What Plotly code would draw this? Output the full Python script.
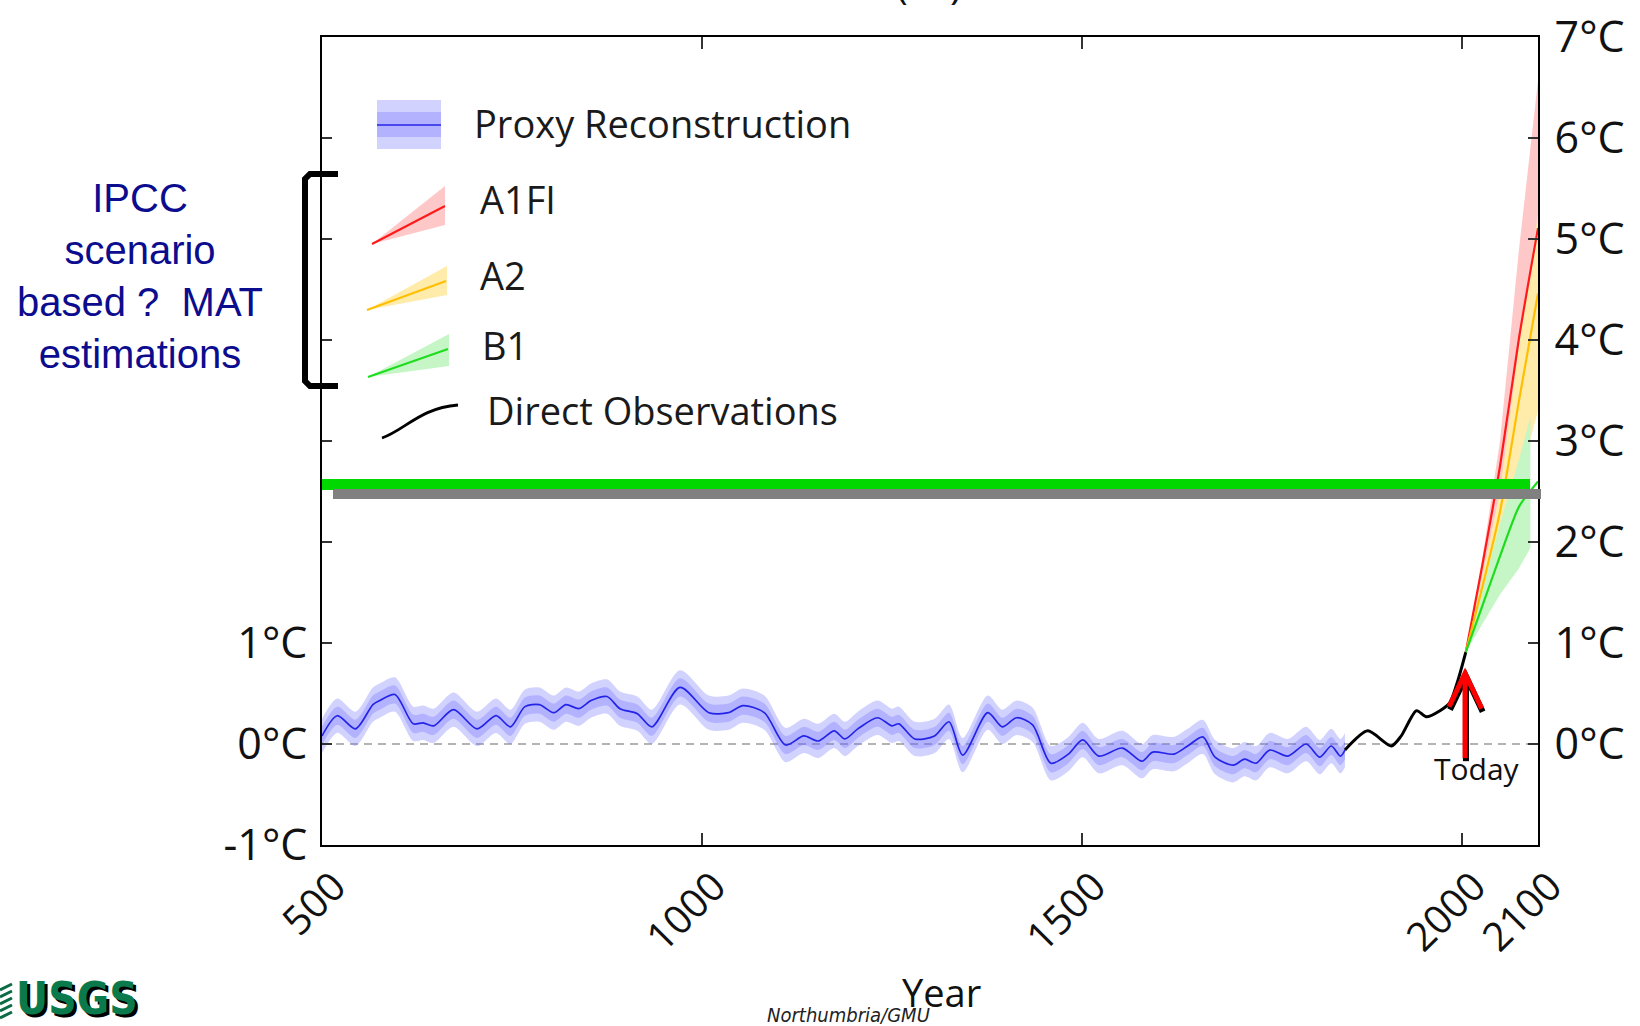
import plotly.graph_objects as go
import numpy as np

# ---------------- data ----------------
proxy_years = [500, 520, 544, 567, 576, 596, 620, 633, 647, 673, 704, 729, 748, 767, 786,
               805, 821, 838, 854, 875, 892, 915, 934, 971, 1009, 1035, 1054, 1082, 1110,
               1134, 1153, 1174, 1188, 1205, 1231, 1250, 1259, 1280, 1306, 1325, 1343, 1376,
               1395, 1414, 1435, 1459, 1482, 1501, 1522, 1553, 1579, 1593, 1621, 1639, 1659,
               1675, 1699, 1714, 1729, 1747, 1771, 1795, 1813, 1828, 1840, 1846]
proxy_temp = [0.08, 0.28, 0.15, 0.39, 0.43, 0.49, 0.20, 0.21, 0.18, 0.34, 0.15, 0.28, 0.17,
              0.37, 0.39, 0.31, 0.39, 0.35, 0.43, 0.47, 0.35, 0.30, 0.17, 0.56, 0.31, 0.31,
              0.38, 0.31, -0.01, 0.08, 0.03, 0.13, 0.05, 0.15, 0.26, 0.18, 0.20, 0.05, 0.08,
              0.22, -0.11, 0.31, 0.17, 0.26, 0.19, -0.19, -0.10, 0.04, -0.12, -0.04, -0.17,
              -0.08, -0.10, -0.02, 0.07, -0.13, -0.21, -0.15, -0.19, -0.06, -0.12, 0.00,
              -0.13, -0.02, -0.12, -0.06]
proxy_err_outer = 0.17
proxy_err_inner = 0.09

obs_years = [1846, 1876, 1907, 1920, 1940, 1953, 1971, 1984, 1995, 2005]
obs_temp = [-0.06, 0.13, -0.02, 0.08, 0.33, 0.27, 0.33, 0.41, 0.64, 0.91]

scen_years = [2005, 2025, 2050, 2075, 2100]
a1fi_mid = [0.91, 1.70, 2.75, 4.02, 5.11]
a1fi_hi = [0.91, 1.75, 3.00, 4.90, 6.57]
a1fi_lo = [0.91, 1.30, 2.10, 3.00, 3.90]
a2_mid = [0.91, 1.50, 2.30, 3.40, 4.46]
a2_hi = [0.91, 1.60, 2.50, 3.95, 5.25]
a2_lo = [0.91, 1.25, 1.85, 2.60, 3.30]
b1_mid = [0.91, 1.33, 1.86, 2.35, 2.60]
b1_band_years = [2005, 2025, 2050, 2075, 2090]
b1_hi = [0.91, 1.47, 2.18, 2.82, 3.24]
b1_lo = [0.91, 1.16, 1.48, 1.74, 1.94]

x_ticks = [500, 1000, 1500, 2000, 2100]
y_left_ticks = [-1, 0, 1, 2, 3, 4, 5, 6, 7]
y_left_labels = ["-1°C", "0°C", "1°C", "", "", "", "", "", ""]
y_right_ticks = [0, 1, 2, 3, 4, 5, 6, 7]
y_right_labels = ["0°C", "1°C", "2°C", "3°C", "4°C", "5°C", "6°C", "7°C"]

legend_labels = ["Proxy Reconstruction", "A1FI", "A2", "B1", "Direct Observations"]
side_note = "IPCC<br>scenario<br>based ?\u00a0 MAT<br>estimations"

today_year = 2004
today_top = 0.70
today_bottom = -0.14

# ---------------- geometry helpers ----------------
W, H = 1640, 1026
L, R, T, B = 322, 102, 37, 181
PW, PH = W - L - R, H - T - B


def fx(px):
    return (px - L) / PW


def fy(py):
    return (H - B - py) / PH


def ppath(cmds):
    out = []
    for c in cmds:
        if isinstance(c, str):
            out.append(c)
        else:
            out.append(f"{fx(c[0]):.5f},{fy(c[1]):.5f}")
    return " ".join(out)


BLUE_FILL = "rgba(105,105,255,0.30)"
PINK = "#FFC8C8"
YELLOW = "#FFEBAA"
LGREEN = "#C6F6C6"
RED = "#FF1A1A"
ORANGE = "#FFBF00"
GREEN = "#1EDC1E"

fig = go.Figure()

py_arr = np.array(proxy_temp)
for err in (proxy_err_outer, proxy_err_inner):
    fig.add_trace(go.Scatter(x=proxy_years, y=py_arr + err, mode="lines",
                             line=dict(width=0, shape="spline", smoothing=0.8),
                             hoverinfo="skip"))
    fig.add_trace(go.Scatter(x=proxy_years, y=py_arr - err, mode="lines",
                             line=dict(width=0, shape="spline", smoothing=0.8),
                             fill="tonexty", fillcolor=BLUE_FILL, hoverinfo="skip"))
fig.add_trace(go.Scatter(x=proxy_years, y=proxy_temp, mode="lines",
                         line=dict(color="#2424E8", width=1.7, shape="spline", smoothing=0.8)))

fig.add_trace(go.Scatter(x=obs_years, y=obs_temp, mode="lines",
                         line=dict(color="black", width=3, shape="spline", smoothing=0.7)))


def band(xs, hi, lo, color):
    fig.add_trace(go.Scatter(x=list(xs) + list(xs)[::-1], y=list(hi) + list(lo)[::-1],
                             mode="lines", line=dict(width=0), fill="toself",
                             fillcolor=color, hoverinfo="skip"))


band(scen_years, a1fi_hi, a1fi_lo, PINK)
band(scen_years, a2_hi, a2_lo, YELLOW)
band(b1_band_years, b1_hi, b1_lo, LGREEN)
for ys, col in ((a1fi_mid, RED), (a2_mid, ORANGE), (b1_mid, GREEN)):
    fig.add_trace(go.Scatter(x=scen_years, y=ys, mode="lines",
                             line=dict(color=col, width=2.2, shape="spline", smoothing=0.6)))

# invisible trace to anchor right axis
fig.add_trace(go.Scatter(x=[500], y=[0], yaxis="y2", mode="markers",
                         marker=dict(opacity=0), hoverinfo="skip"))

shapes = []
shapes.append(dict(type="line", xref="x", yref="y", x0=500, x1=2100, y0=0, y1=0,
                   line=dict(color="#9a9a9a", width=1.6, dash="8px,6px"), layer="below"))

# legend swatches (pixel positions converted to paper)
shapes += [
    dict(type="rect", xref="paper", yref="paper", x0=fx(377), x1=fx(441), y0=fy(149), y1=fy(100),
         fillcolor=BLUE_FILL, line=dict(width=0)),
    dict(type="rect", xref="paper", yref="paper", x0=fx(377), x1=fx(441), y0=fy(137), y1=fy(112),
         fillcolor=BLUE_FILL, line=dict(width=0)),
    dict(type="line", xref="paper", yref="paper", x0=fx(377), x1=fx(441), y0=fy(125), y1=fy(125),
         line=dict(color="#2424E8", width=1.6)),
    dict(type="path", xref="paper", yref="paper",
         path=ppath(["M", (372, 244), "L", (445, 186), "L", (445, 225), "Z"]),
         fillcolor=PINK, line=dict(width=0)),
    dict(type="line", xref="paper", yref="paper", x0=fx(372), x1=fx(445), y0=fy(244), y1=fy(206),
         line=dict(color=RED, width=2)),
    dict(type="path", xref="paper", yref="paper",
         path=ppath(["M", (367, 310), "L", (447, 266), "L", (447, 295), "Z"]),
         fillcolor=YELLOW, line=dict(width=0)),
    dict(type="line", xref="paper", yref="paper", x0=fx(367), x1=fx(446), y0=fy(310), y1=fy(281),
         line=dict(color=ORANGE, width=2)),
    dict(type="path", xref="paper", yref="paper",
         path=ppath(["M", (368, 377), "L", (449, 334), "L", (449, 366), "Z"]),
         fillcolor=LGREEN, line=dict(width=0)),
    dict(type="line", xref="paper", yref="paper", x0=fx(368), x1=fx(448), y0=fy(377), y1=fy(349),
         line=dict(color=GREEN, width=2)),
    dict(type="path", xref="paper", yref="paper",
         path=ppath(["M", (382, 438), "C", (405, 430), (420, 408), (458, 405)]),
         line=dict(color="black", width=2.8)),
]

# bracket
shapes.append(dict(type="path", xref="paper", yref="paper",
                   path=ppath(["M", (338, 174), "L", (310, 174), "L", (305, 179), "L", (305, 381),
                               "L", (310, 386), "L", (338, 386)]),
                   line=dict(color="black", width=6)))

# overlay bars
shapes.append(dict(type="line", xref="paper", yref="paper", x0=fx(322), x1=fx(1530),
                   y0=fy(484.5), y1=fy(484.5), line=dict(color="#00D800", width=11)))
shapes.append(dict(type="line", xref="paper", yref="paper", x0=fx(333), x1=fx(1541),
                   y0=fy(494), y1=fy(494), line=dict(color="#808080", width=10)))

# Today arrow (shadow + red)
for dx, dy, col, w in ((1.2, -0.03, "black", 6), (0, 0, "#FF0000", 5)):
    shapes.append(dict(type="line", xref="x", yref="y", x0=today_year + dx, x1=today_year + dx,
                       y0=today_bottom + dy, y1=today_top - 0.02 + dy, line=dict(color=col, width=w)))
    shapes.append(dict(type="path", xref="x", yref="y",
                       path=f"M {today_year - 21 + dx},{today_top - 0.33 + dy} "
                            f"L {today_year + dx},{today_top + dy} "
                            f"L {today_year + 22 + dx},{today_top - 0.35 + dy}",
                       line=dict(color=col, width=w)))

# USGS emblem stripes
for k in range(5):
    shapes.append(dict(type="line", xref="paper", yref="paper", x0=fx(0), x1=fx(12),
                       y0=fy(990 + 7 * k), y1=fy(984 + 7 * k),
                       line=dict(color="#0a6b45", width=3)))

OPEN = "Open Sans"
annotations = []
leg_pos = [(472, 123), (478, 199), (478, 275), (480, 345), (485, 410)]
for text, (lx, ly) in zip(legend_labels, leg_pos):
    annotations.append(dict(xref="paper", yref="paper", x=fx(lx), y=fy(ly), text=text,
                            showarrow=False, xanchor="left", yanchor="middle",
                            font=dict(family=OPEN, size=38, color="#1a1a1a")))

annotations.append(dict(xref="paper", yref="paper", x=fx(140), y=fy(276), text=side_note,
                        showarrow=False, xanchor="center", yanchor="middle", align="center",
                        font=dict(family="Liberation Sans, Arial", size=40, color="#0c0c8e")))

annotations.append(dict(xref="x", yref="y", x=2020, y=-0.24, text="Today", showarrow=False,
                        xanchor="center", yanchor="middle",
                        font=dict(family=OPEN, size=30, color="#111")))

annotations.append(dict(xref="paper", yref="paper", x=fx(941), y=fy(992), text="Year",
                        showarrow=False, xanchor="center", yanchor="middle",
                        font=dict(family=OPEN, size=38, color="#111")))

annotations.append(dict(xref="paper", yref="paper", x=fx(848), y=fy(1015),
                        text="<i>Northumbria/GMU</i>", showarrow=False,
                        xanchor="center", yanchor="middle",
                        font=dict(family="Liberation Sans Narrow, DejaVu Sans Condensed, Liberation Sans",
                                  size=20, color="#222")))

annotations.append(dict(xref="paper", yref="paper", x=fx(929), y=fy(13), text="(°C)",
                        showarrow=False, xanchor="center", yanchor="bottom",
                        font=dict(family=OPEN, size=40, color="#111")))

for dx, dy, col in ((3, 3, "black"), (0, 0, "#0a7a4c")):
    annotations.append(dict(xref="paper", yref="paper", x=fx(14 + dx), y=fy(998 + dy),
                            text="<b>USGS</b>", showarrow=False, xanchor="left", yanchor="middle",
                            font=dict(family="Liberation Sans Narrow, DejaVu Sans Condensed, Liberation Sans",
                                      size=44, color=col)))

fig.update_layout(
    width=W, height=H,
    margin=dict(l=L, r=R, t=T, b=B, autoexpand=False),
    paper_bgcolor="white", plot_bgcolor="white",
    showlegend=False,
    xaxis=dict(range=[500, 2100], tickmode="array", tickvals=x_ticks,
               ticktext=[str(v) for v in x_ticks], tickangle=-45,
               ticks="inside", ticklen=12, tickwidth=1.5, tickcolor="#333",
               showline=True, linecolor="black", linewidth=2, mirror="ticks",
               showgrid=False, zeroline=False, ticklabelshift=12,
               tickfont=dict(family=OPEN, size=40, color="#111")),
    yaxis=dict(range=[-1, 7], tickmode="array", tickvals=y_left_ticks, ticktext=y_left_labels,
               ticks="inside", ticklen=10, tickwidth=1.5, tickcolor="#333",
               showline=True, linecolor="black", linewidth=2,
               showgrid=False, zeroline=False, ticklabelstandoff=4,
               tickfont=dict(family=OPEN, size=43, color="#111")),
    yaxis2=dict(range=[-1, 7], overlaying="y", side="right", tickmode="array",
                tickvals=y_right_ticks, ticktext=y_right_labels,
                ticks="inside", ticklen=10, tickwidth=1.5, tickcolor="#333",
                showline=True, linecolor="black", linewidth=2,
                showgrid=False, zeroline=False, ticklabelstandoff=6,
                tickfont=dict(family=OPEN, size=43, color="#111")),
    shapes=shapes,
    annotations=annotations,
)

fig.write_html("out.html", config={"displayModeBar": False},
               post_script="document.body.style.margin='0';document.body.style.overflow='hidden';")
